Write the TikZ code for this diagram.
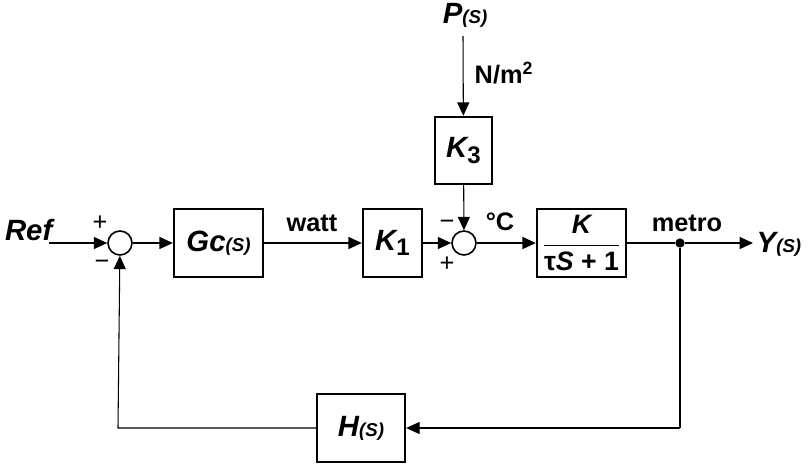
\documentclass[tikz,border=0pt]{standalone}
\usepackage{fontspec}
\setmainfont{Liberation Sans}
\usetikzlibrary{arrows.meta}
\begin{document}
\begin{tikzpicture}[x=0.75pt,y=-0.75pt,
  blk/.style={draw,line width=1.8pt,minimum width=66pt,minimum height=51pt,inner sep=0pt,font=\fontsize{22}{24}\selectfont\bfseries\itshape},
  sumc/.style={draw,circle,line width=1.2pt,minimum size=18pt,inner sep=0pt},
  sig/.style={line width=0.8pt,-{Triangle[length=10pt,width=9pt]}},
  wire/.style={line width=0.8pt},
  lbl/.style={font=\fontsize{19}{21}\selectfont\bfseries},
  ilbl/.style={font=\fontsize{22}{24}\selectfont\bfseries\itshape},
  sgn/.style={font=\fontsize{19}{20}\selectfont,inner sep=0pt}]
\useasboundingbox (0,0) rectangle (812,465);
\newcommand{\smS}{{\fontsize{14}{15}\selectfont(S)}}
\newcommand{\subn}[1]{\raisebox{-0.35ex}{\fontsize{18}{19}\selectfont\upshape #1}}
% nodes
\node[ilbl,anchor=east] (ref) at (57,230) {Ref};
\coordinate (refin) at (49,243);
\node[sumc] (s1) at (120,243) {};
\node[blk,minimum width=66.75pt] (gc) at (218.5,243) {Gc\smS};
\node[blk,minimum width=44.25pt] (k1) at (392.5,243) {K\subn{1}};
\node[sumc] (s2) at (464,243) {};
\node[blk,minimum width=42.75pt,minimum height=50.25pt] (k3) at (463.5,150.5) {K\subn{3}};
\node[ilbl] (p) at (465,15) {P\smS};
\coordinate (pin) at (463,36);
\node[blk,minimum width=66.75pt] (g) at (581.5,243) {$\displaystyle\frac{\mbox{\fontsize{20}{22}\selectfont\bfseries\itshape K}}{\mbox{\fontsize{20}{22}\selectfont\upshape τ\bfseries\itshape S\upshape\ + 1}}$};
\node[circle,fill,inner sep=0pt,minimum size=7pt] (d) at (680,243) {};
\coordinate (yout) at (753,243);
\node[ilbl,anchor=west] (y) at (752,244) {Y\smS};
\node[blk,minimum width=66pt,minimum height=51pt] (h) at (361,428) {H\smS};
\coordinate (c1) at (680,428);
\coordinate (c2) at (118,428);
% labels
\node[sgn] at (100,223) {+};
\node[sgn] at (102,265) {\textminus};
\node[sgn] at (447,225) {\textminus};
\node[sgn] at (447,264) {+};
\node[lbl] at (312,223) {watt};
\node[lbl] at (500,222) {°C};
\node[lbl] at (687,223) {metro};
\node[lbl,anchor=west] at (470,73) {N/m\textsuperscript{2}};
% connectors
\draw[sig] (refin) -- (s1);
\draw[sig] (s1) -- (gc);
\draw[sig] (gc) -- (k1);
\draw[sig] (k1) -- (s2);
\draw[sig] (pin) -- (k3);
\draw[sig] (k3) -- (s2);
\draw[sig] (s2) -- (g);
\draw[wire] (g) -- (d);
\draw[sig] (d) -- (yout);
\draw[wire] (d) -- (c1);
\draw[sig] (c1) -- (h);
\draw[sig] (h) -- (c2) -- (s1);
\end{tikzpicture}
\end{document}
